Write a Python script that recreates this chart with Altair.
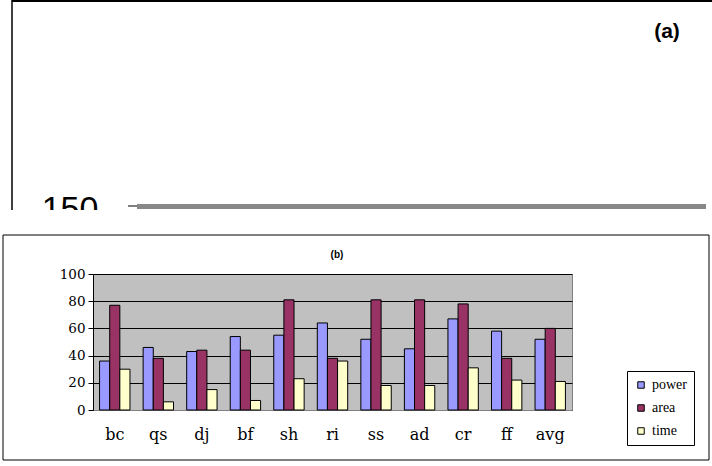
import altair as alt
import pandas as pd

categories = ["bc", "qs", "dj", "bf", "sh", "ri", "ss", "ad", "cr", "ff", "avg"]
power = [36, 46, 43, 54, 55, 64, 52, 45, 67, 58, 52]
area = [77, 38, 44, 44, 81, 38, 81, 81, 78, 38, 60]
time = [30, 6, 15, 7, 23, 36, 18, 18, 31, 22, 21]
series = ["power", "area", "time"]
colors = ["#9999FF", "#993366", "#FFFFCC"]

rows = []
for i, c in enumerate(categories):
    for s, vals in zip(series, [power, area, time]):
        rows.append({"cat": c, "series": s, "value": vals[i]})
df = pd.DataFrame(rows)

# plot area origin in page: (93, 274), size 479 x 136
OX, OY = 93, 274
W, H = 479, 136

one = pd.DataFrame({"d": [0]})

def px(v):
    return alt.value(v - OX)

def py(v):
    return alt.value(v - OY)

bars = alt.Chart(df).mark_bar(stroke="black", strokeWidth=1).encode(
    x=alt.X("cat:N", sort=categories, title=None,
            scale=alt.Scale(paddingInner=0, paddingOuter=0),
            axis=alt.Axis(labelAngle=0, ticks=False, labelPadding=16,
                          labelFont="DejaVu Serif", labelFontSize=16,
                          labelColor="black", domainColor="#808080",
                          grid=False)),
    xOffset=alt.XOffset("series:N", sort=series,
                        scale=alt.Scale(paddingInner=0, paddingOuter=0.65)),
    y=alt.Y("value:Q", title=None,
            scale=alt.Scale(domain=[0, 100], nice=False),
            axis=alt.Axis(values=[0, 20, 40, 60, 80, 100], tickSize=5,
                          tickColor="black", domainColor="black",
                          labelFont="DejaVu Serif", labelFontSize=13.5,
                          labelColor="black", labelPadding=3,
                          grid=True, gridColor="black", gridWidth=1)),
    color=alt.Color("series:N", sort=series,
                    scale=alt.Scale(domain=series, range=colors),
                    legend=alt.Legend(title=None, orient="none",
                                      legendX=627 - OX, legendY=371 - OY,
                                      symbolType="square", symbolSize=42,
                                      symbolStrokeColor="black",
                                      symbolStrokeWidth=1,
                                      labelFont="Liberation Serif",
                                      labelFontSize=14, labelColor="black",
                                      rowPadding=9, padding=7,
                                      strokeColor="black", fillColor="white",
                                      labelOffset=4)),
)

# panel (b) frame
frame_b = alt.Chart(one).mark_rect(fillOpacity=0, stroke="black", strokeWidth=1).encode(
    x=px(3), x2=px(709), y=py(235), y2=py(460))

title_b = alt.Chart(one).mark_text(text="(b)", font="Liberation Sans", fontSize=10,
                                   fontWeight="bold", color="black").encode(
    x=px(337), y=py(255))

# panel (a) remnants
top_line = alt.Chart(one).mark_rule(color="black", strokeWidth=2).encode(
    x=px(12), x2=px(712), y=py(1))
left_line = alt.Chart(one).mark_rule(color="black", strokeWidth=1.5).encode(
    x=px(12), y=py(0), y2=py(210))
label_a = alt.Chart(one).mark_text(text="(a)", font="Liberation Sans", fontSize=21,
                                   fontWeight="bold", color="black").encode(
    x=px(667), y=py(32))
label_150 = alt.Chart(one).mark_text(text="150", font="Liberation Sans", fontSize=34,
                                     baseline="alphabetic", align="center",
                                     color="black").encode(
    x=px(70), y=py(220))
gray_bar = alt.Chart(one).mark_rule(color="#888888", strokeWidth=5).encode(
    x=px(137), x2=px(706), y=py(206.5))
tick_a = alt.Chart(one).mark_rule(color="black", strokeWidth=1).encode(
    x=px(128), x2=px(137), y=py(206))
cover = alt.Chart(one).mark_rect(color="white").encode(
    x=px(0), x2=px(712), y=py(210), y2=py(233))

chart = alt.layer(
    frame_b, bars, title_b, top_line, left_line, label_a, label_150,
    gray_bar, tick_a, cover
).properties(
    width=W, height=H,
    autosize=alt.AutoSizeParams(type="none"),
    padding={"left": OX, "top": OY, "right": 712 - OX - W, "bottom": 466 - OY - H},
    background="white",
).configure_view(
    fill="#C0C0C0", stroke="#808080", strokeWidth=1
).configure_legend(
    labelFont="Liberation Serif", labelFontSize=14
)

chart.save("out.html", embed_options={"renderer": "svg", "actions": False})
